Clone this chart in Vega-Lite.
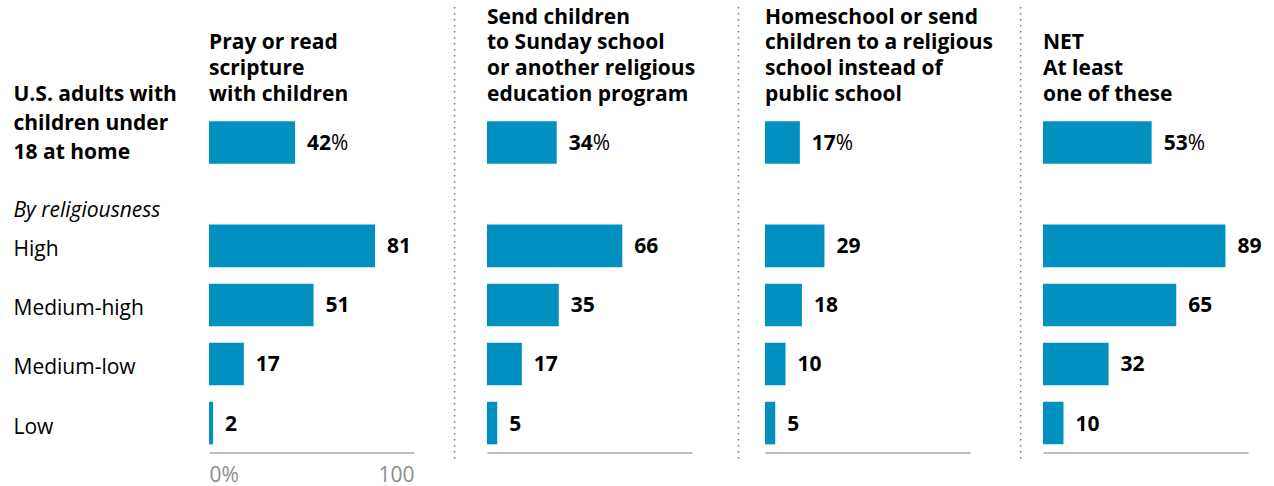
{
  "$schema": "https://vega.github.io/schema/vega-lite/v6.json",
  "background": "white",
  "autosize": {"type": "pad"},
  "padding": {"left": 13, "top": 6, "right": 6, "bottom": 6},
  "datasets": {
    "bars": [
      {"measure": "pray", "group": "U.S. adults with children under 18 at home", "value": 42},
      {"measure": "pray", "group": "High", "value": 81},
      {"measure": "pray", "group": "Medium-high", "value": 51},
      {"measure": "pray", "group": "Medium-low", "value": 17},
      {"measure": "pray", "group": "Low", "value": 2},
      {"measure": "sunday", "group": "U.S. adults with children under 18 at home", "value": 34},
      {"measure": "sunday", "group": "High", "value": 66},
      {"measure": "sunday", "group": "Medium-high", "value": 35},
      {"measure": "sunday", "group": "Medium-low", "value": 17},
      {"measure": "sunday", "group": "Low", "value": 5},
      {"measure": "homeschool", "group": "U.S. adults with children under 18 at home", "value": 17},
      {"measure": "homeschool", "group": "High", "value": 29},
      {"measure": "homeschool", "group": "Medium-high", "value": 18},
      {"measure": "homeschool", "group": "Medium-low", "value": 10},
      {"measure": "homeschool", "group": "Low", "value": 5},
      {"measure": "net", "group": "U.S. adults with children under 18 at home", "value": 53},
      {"measure": "net", "group": "High", "value": 89},
      {"measure": "net", "group": "Medium-high", "value": 65},
      {"measure": "net", "group": "Medium-low", "value": 32},
      {"measure": "net", "group": "Low", "value": 10}
    ],
    "titles": [
      {"measure": "pray", "group": "U.S. adults with children under 18 at home", "title": ["Pray or read", "scripture", "with children"]},
      {"measure": "sunday", "group": "U.S. adults with children under 18 at home", "title": ["Send children", "to Sunday school", "or another religious", "education program"]},
      {"measure": "homeschool", "group": "U.S. adults with children under 18 at home", "title": ["Homeschool or send", "children to a religious", "school instead of", "public school"]},
      {"measure": "net", "group": "U.S. adults with children under 18 at home", "title": ["NET", "At least", "one of these"]}
    ],
    "seps": [{"sep": 1}]
  },
  "spacing": 73,
  "bounds": "flush",
  "hconcat": [
    {
      "width": 205, "height": 456,
      "layer": [
        {"data": {"name": "bars"}, "transform": [{"filter": "datum.measure == 'pray' && datum.group == 'U.S. adults with children under 18 at home'"}],
         "mark": {"type": "bar", "color": "#0091c1", "yOffset": 14.8},
         "encoding": {"x": {"field": "value", "type": "quantitative", "scale": {"domain": [0, 100]},
                            "axis": {"title": null, "labels": true, "values": [0, 100], "labelExpr": "datum.value == 0 ? '0%' : '100'"}},
                      "y": {"field": "group", "type": "nominal", "scale": {"domain": ["U.S. adults with children under 18 at home", "By religiousness", "High", "Medium-high", "Medium-low", "Low"], "paddingInner": 0.279, "paddingOuter": 1.0235, "align": 0.842, "round": false},
                            "axis": {"title": null, "labels": true, "labelAlign": "left", "labelBaseline": "middle", "labelPadding": 196, "tickSize": 0, "labelLimit": 300, "labelFontSize": 21, "labelColor": "#000", "labelLineHeight": 29,
                                     "labelExpr": "datum.value == 'U.S. adults with children under 18 at home' ? ['U.S. adults with', 'children under', '18 at home'] : datum.value",
                                     "labelFontWeight": {"condition": {"test": "datum.value == 'U.S. adults with children under 18 at home'", "value": "bold"}, "value": "normal"},
                                     "labelFontStyle": {"condition": {"test": "datum.value == 'By religiousness'", "value": "italic"}, "value": "normal"},
                                     "labelOffset": {"condition": [{"test": "datum.value == 'U.S. adults with children under 18 at home'", "value": -32.4}, {"test": "datum.value == 'By religiousness'", "value": 24}], "value": 4.5}}}}},
        {"data": {"name": "seps"}, "mark": {"type": "rule", "color": "#7a7a7a", "strokeWidth": 1.5, "strokeDash": [1.5, 4.5]},
         "encoding": {"x": {"datum": 119.8, "type": "quantitative", "scale": {"domain": [0, 100]}}}},
        {"data": {"name": "titles"}, "transform": [{"filter": "datum.measure == 'pray'"}],
         "mark": {"type": "text", "align": "left", "baseline": "alphabetic", "fontSize": 21, "fontWeight": "bold", "lineHeight": 25.7, "dy": -78.4, "color": "#000"},
         "encoding": {"x": {"datum": 0, "type": "quantitative", "scale": {"domain": [0, 100]}},
                      "y": {"field": "group", "type": "nominal", "scale": {"domain": ["U.S. adults with children under 18 at home", "By religiousness", "High", "Medium-high", "Medium-low", "Low"], "paddingInner": 0.279, "paddingOuter": 1.0235, "align": 0.842, "round": false}},
                      "text": {"field": "title", "type": "nominal"}}},
        {"data": {"name": "bars"}, "transform": [{"filter": "datum.measure == 'pray' && datum.group != 'U.S. adults with children under 18 at home'"}],
         "mark": {"type": "bar", "color": "#0091c1"},
         "encoding": {"x": {"field": "value", "type": "quantitative", "scale": {"domain": [0, 100]}},
                      "y": {"field": "group", "type": "nominal", "scale": {"domain": ["U.S. adults with children under 18 at home", "By religiousness", "High", "Medium-high", "Medium-low", "Low"], "paddingInner": 0.279, "paddingOuter": 1.0235, "align": 0.842, "round": false}}}},
        {"data": {"name": "bars"}, "transform": [{"filter": "datum.measure == 'pray' && datum.group == 'U.S. adults with children under 18 at home'"}],
         "mark": {"type": "text", "align": "left", "baseline": "middle", "dx": 12, "dy": 1, "yOffset": 14.8, "fontSize": 21, "fontWeight": "bold", "color": "#000"},
         "encoding": {"x": {"field": "value", "type": "quantitative", "scale": {"domain": [0, 100]}},
                      "y": {"field": "group", "type": "nominal", "scale": {"domain": ["U.S. adults with children under 18 at home", "By religiousness", "High", "Medium-high", "Medium-low", "Low"], "paddingInner": 0.279, "paddingOuter": 1.0235, "align": 0.842, "round": false}},
                      "text": {"field": "value", "type": "quantitative"}}},
        {"data": {"name": "bars"}, "transform": [{"filter": "datum.measure == 'pray' && datum.group == 'U.S. adults with children under 18 at home'"}],
         "mark": {"type": "text", "align": "left", "baseline": "middle", "dx": 36, "dy": 1, "yOffset": 14.8, "fontSize": 21, "fontWeight": "normal", "color": "#000", "text": "%"},
         "encoding": {"x": {"field": "value", "type": "quantitative", "scale": {"domain": [0, 100]}},
                      "y": {"field": "group", "type": "nominal", "scale": {"domain": ["U.S. adults with children under 18 at home", "By religiousness", "High", "Medium-high", "Medium-low", "Low"], "paddingInner": 0.279, "paddingOuter": 1.0235, "align": 0.842, "round": false}}}},
        {"data": {"name": "bars"}, "transform": [{"filter": "datum.measure == 'pray' && datum.group != 'U.S. adults with children under 18 at home'"}],
         "mark": {"type": "text", "align": "left", "baseline": "middle", "dx": 12, "dy": 1.5, "fontSize": 21, "fontWeight": "bold", "color": "#000"},
         "encoding": {"x": {"field": "value", "type": "quantitative", "scale": {"domain": [0, 100]}},
                      "y": {"field": "group", "type": "nominal", "scale": {"domain": ["U.S. adults with children under 18 at home", "By religiousness", "High", "Medium-high", "Medium-low", "Low"], "paddingInner": 0.279, "paddingOuter": 1.0235, "align": 0.842, "round": false}},
                      "text": {"field": "value", "type": "quantitative"}}}
      ]
    },
    {
      "width": 205, "height": 456,
      "layer": [
        {"data": {"name": "bars"}, "transform": [{"filter": "datum.measure == 'sunday' && datum.group == 'U.S. adults with children under 18 at home'"}],
         "mark": {"type": "bar", "color": "#0091c1", "yOffset": 14.8},
         "encoding": {"x": {"field": "value", "type": "quantitative", "scale": {"domain": [0, 100]}, "axis": {"title": null}},
                      "y": {"field": "group", "type": "nominal", "scale": {"domain": ["U.S. adults with children under 18 at home", "By religiousness", "High", "Medium-high", "Medium-low", "Low"], "paddingInner": 0.279, "paddingOuter": 1.0235, "align": 0.842, "round": false}, "axis": null}}},
        {"data": {"name": "seps"}, "mark": {"type": "rule", "color": "#7a7a7a", "strokeWidth": 1.5, "strokeDash": [1.5, 4.5]},
         "encoding": {"x": {"datum": 122.7, "type": "quantitative", "scale": {"domain": [0, 100]}}}},
        {"data": {"name": "titles"}, "transform": [{"filter": "datum.measure == 'sunday'"}],
         "mark": {"type": "text", "align": "left", "baseline": "alphabetic", "fontSize": 21, "fontWeight": "bold", "lineHeight": 25.7, "dy": -104.1, "color": "#000"},
         "encoding": {"x": {"datum": 0, "type": "quantitative", "scale": {"domain": [0, 100]}},
                      "y": {"field": "group", "type": "nominal", "scale": {"domain": ["U.S. adults with children under 18 at home", "By religiousness", "High", "Medium-high", "Medium-low", "Low"], "paddingInner": 0.279, "paddingOuter": 1.0235, "align": 0.842, "round": false}, "axis": null},
                      "text": {"field": "title", "type": "nominal"}}},
        {"data": {"name": "bars"}, "transform": [{"filter": "datum.measure == 'sunday' && datum.group != 'U.S. adults with children under 18 at home'"}],
         "mark": {"type": "bar", "color": "#0091c1"},
         "encoding": {"x": {"field": "value", "type": "quantitative", "scale": {"domain": [0, 100]}},
                      "y": {"field": "group", "type": "nominal", "scale": {"domain": ["U.S. adults with children under 18 at home", "By religiousness", "High", "Medium-high", "Medium-low", "Low"], "paddingInner": 0.279, "paddingOuter": 1.0235, "align": 0.842, "round": false}, "axis": null}}},
        {"data": {"name": "bars"}, "transform": [{"filter": "datum.measure == 'sunday' && datum.group == 'U.S. adults with children under 18 at home'"}],
         "mark": {"type": "text", "align": "left", "baseline": "middle", "dx": 12, "dy": 1, "yOffset": 14.8, "fontSize": 21, "fontWeight": "bold", "color": "#000"},
         "encoding": {"x": {"field": "value", "type": "quantitative", "scale": {"domain": [0, 100]}},
                      "y": {"field": "group", "type": "nominal", "scale": {"domain": ["U.S. adults with children under 18 at home", "By religiousness", "High", "Medium-high", "Medium-low", "Low"], "paddingInner": 0.279, "paddingOuter": 1.0235, "align": 0.842, "round": false}, "axis": null},
                      "text": {"field": "value", "type": "quantitative"}}},
        {"data": {"name": "bars"}, "transform": [{"filter": "datum.measure == 'sunday' && datum.group == 'U.S. adults with children under 18 at home'"}],
         "mark": {"type": "text", "align": "left", "baseline": "middle", "dx": 36, "dy": 1, "yOffset": 14.8, "fontSize": 21, "fontWeight": "normal", "color": "#000", "text": "%"},
         "encoding": {"x": {"field": "value", "type": "quantitative", "scale": {"domain": [0, 100]}},
                      "y": {"field": "group", "type": "nominal", "scale": {"domain": ["U.S. adults with children under 18 at home", "By religiousness", "High", "Medium-high", "Medium-low", "Low"], "paddingInner": 0.279, "paddingOuter": 1.0235, "align": 0.842, "round": false}, "axis": null}}},
        {"data": {"name": "bars"}, "transform": [{"filter": "datum.measure == 'sunday' && datum.group != 'U.S. adults with children under 18 at home'"}],
         "mark": {"type": "text", "align": "left", "baseline": "middle", "dx": 12, "dy": 1.5, "fontSize": 21, "fontWeight": "bold", "color": "#000"},
         "encoding": {"x": {"field": "value", "type": "quantitative", "scale": {"domain": [0, 100]}},
                      "y": {"field": "group", "type": "nominal", "scale": {"domain": ["U.S. adults with children under 18 at home", "By religiousness", "High", "Medium-high", "Medium-low", "Low"], "paddingInner": 0.279, "paddingOuter": 1.0235, "align": 0.842, "round": false}, "axis": null},
                      "text": {"field": "value", "type": "quantitative"}}}
      ]
    },
    {
      "width": 205, "height": 456,
      "layer": [
        {"data": {"name": "bars"}, "transform": [{"filter": "datum.measure == 'homeschool' && datum.group == 'U.S. adults with children under 18 at home'"}],
         "mark": {"type": "bar", "color": "#0091c1", "yOffset": 14.8},
         "encoding": {"x": {"field": "value", "type": "quantitative", "scale": {"domain": [0, 100]}, "axis": {"title": null}},
                      "y": {"field": "group", "type": "nominal", "scale": {"domain": ["U.S. adults with children under 18 at home", "By religiousness", "High", "Medium-high", "Medium-low", "Low"], "paddingInner": 0.279, "paddingOuter": 1.0235, "align": 0.842, "round": false}, "axis": null}}},
        {"data": {"name": "seps"}, "mark": {"type": "rule", "color": "#7a7a7a", "strokeWidth": 1.5, "strokeDash": [1.5, 4.5]},
         "encoding": {"x": {"datum": 124.7, "type": "quantitative", "scale": {"domain": [0, 100]}}}},
        {"data": {"name": "titles"}, "transform": [{"filter": "datum.measure == 'homeschool'"}],
         "mark": {"type": "text", "align": "left", "baseline": "alphabetic", "fontSize": 21, "fontWeight": "bold", "lineHeight": 25.7, "dy": -104.1, "color": "#000"},
         "encoding": {"x": {"datum": 0, "type": "quantitative", "scale": {"domain": [0, 100]}},
                      "y": {"field": "group", "type": "nominal", "scale": {"domain": ["U.S. adults with children under 18 at home", "By religiousness", "High", "Medium-high", "Medium-low", "Low"], "paddingInner": 0.279, "paddingOuter": 1.0235, "align": 0.842, "round": false}, "axis": null},
                      "text": {"field": "title", "type": "nominal"}}},
        {"data": {"name": "bars"}, "transform": [{"filter": "datum.measure == 'homeschool' && datum.group != 'U.S. adults with children under 18 at home'"}],
         "mark": {"type": "bar", "color": "#0091c1"},
         "encoding": {"x": {"field": "value", "type": "quantitative", "scale": {"domain": [0, 100]}},
                      "y": {"field": "group", "type": "nominal", "scale": {"domain": ["U.S. adults with children under 18 at home", "By religiousness", "High", "Medium-high", "Medium-low", "Low"], "paddingInner": 0.279, "paddingOuter": 1.0235, "align": 0.842, "round": false}, "axis": null}}},
        {"data": {"name": "bars"}, "transform": [{"filter": "datum.measure == 'homeschool' && datum.group == 'U.S. adults with children under 18 at home'"}],
         "mark": {"type": "text", "align": "left", "baseline": "middle", "dx": 12, "dy": 1, "yOffset": 14.8, "fontSize": 21, "fontWeight": "bold", "color": "#000"},
         "encoding": {"x": {"field": "value", "type": "quantitative", "scale": {"domain": [0, 100]}},
                      "y": {"field": "group", "type": "nominal", "scale": {"domain": ["U.S. adults with children under 18 at home", "By religiousness", "High", "Medium-high", "Medium-low", "Low"], "paddingInner": 0.279, "paddingOuter": 1.0235, "align": 0.842, "round": false}, "axis": null},
                      "text": {"field": "value", "type": "quantitative"}}},
        {"data": {"name": "bars"}, "transform": [{"filter": "datum.measure == 'homeschool' && datum.group == 'U.S. adults with children under 18 at home'"}],
         "mark": {"type": "text", "align": "left", "baseline": "middle", "dx": 36, "dy": 1, "yOffset": 14.8, "fontSize": 21, "fontWeight": "normal", "color": "#000", "text": "%"},
         "encoding": {"x": {"field": "value", "type": "quantitative", "scale": {"domain": [0, 100]}},
                      "y": {"field": "group", "type": "nominal", "scale": {"domain": ["U.S. adults with children under 18 at home", "By religiousness", "High", "Medium-high", "Medium-low", "Low"], "paddingInner": 0.279, "paddingOuter": 1.0235, "align": 0.842, "round": false}, "axis": null}}},
        {"data": {"name": "bars"}, "transform": [{"filter": "datum.measure == 'homeschool' && datum.group != 'U.S. adults with children under 18 at home'"}],
         "mark": {"type": "text", "align": "left", "baseline": "middle", "dx": 12, "dy": 1.5, "fontSize": 21, "fontWeight": "bold", "color": "#000"},
         "encoding": {"x": {"field": "value", "type": "quantitative", "scale": {"domain": [0, 100]}},
                      "y": {"field": "group", "type": "nominal", "scale": {"domain": ["U.S. adults with children under 18 at home", "By religiousness", "High", "Medium-high", "Medium-low", "Low"], "paddingInner": 0.279, "paddingOuter": 1.0235, "align": 0.842, "round": false}, "axis": null},
                      "text": {"field": "value", "type": "quantitative"}}}
      ]
    },
    {
      "width": 205, "height": 456,
      "layer": [
        {"data": {"name": "bars"}, "transform": [{"filter": "datum.measure == 'net' && datum.group == 'U.S. adults with children under 18 at home'"}],
         "mark": {"type": "bar", "color": "#0091c1", "yOffset": 14.8},
         "encoding": {"x": {"field": "value", "type": "quantitative", "scale": {"domain": [0, 100]}, "axis": {"title": null}},
                      "y": {"field": "group", "type": "nominal", "scale": {"domain": ["U.S. adults with children under 18 at home", "By religiousness", "High", "Medium-high", "Medium-low", "Low"], "paddingInner": 0.279, "paddingOuter": 1.0235, "align": 0.842, "round": false}, "axis": null}}},
        {"data": {"name": "titles"}, "transform": [{"filter": "datum.measure == 'net'"}],
         "mark": {"type": "text", "align": "left", "baseline": "alphabetic", "fontSize": 21, "fontWeight": "bold", "lineHeight": 25.7, "dy": -78.4, "color": "#000"},
         "encoding": {"x": {"datum": 0, "type": "quantitative", "scale": {"domain": [0, 100]}},
                      "y": {"field": "group", "type": "nominal", "scale": {"domain": ["U.S. adults with children under 18 at home", "By religiousness", "High", "Medium-high", "Medium-low", "Low"], "paddingInner": 0.279, "paddingOuter": 1.0235, "align": 0.842, "round": false}, "axis": null},
                      "text": {"field": "title", "type": "nominal"}}},
        {"data": {"name": "bars"}, "transform": [{"filter": "datum.measure == 'net' && datum.group != 'U.S. adults with children under 18 at home'"}],
         "mark": {"type": "bar", "color": "#0091c1"},
         "encoding": {"x": {"field": "value", "type": "quantitative", "scale": {"domain": [0, 100]}},
                      "y": {"field": "group", "type": "nominal", "scale": {"domain": ["U.S. adults with children under 18 at home", "By religiousness", "High", "Medium-high", "Medium-low", "Low"], "paddingInner": 0.279, "paddingOuter": 1.0235, "align": 0.842, "round": false}, "axis": null}}},
        {"data": {"name": "bars"}, "transform": [{"filter": "datum.measure == 'net' && datum.group == 'U.S. adults with children under 18 at home'"}],
         "mark": {"type": "text", "align": "left", "baseline": "middle", "dx": 12, "dy": 1, "yOffset": 14.8, "fontSize": 21, "fontWeight": "bold", "color": "#000"},
         "encoding": {"x": {"field": "value", "type": "quantitative", "scale": {"domain": [0, 100]}},
                      "y": {"field": "group", "type": "nominal", "scale": {"domain": ["U.S. adults with children under 18 at home", "By religiousness", "High", "Medium-high", "Medium-low", "Low"], "paddingInner": 0.279, "paddingOuter": 1.0235, "align": 0.842, "round": false}, "axis": null},
                      "text": {"field": "value", "type": "quantitative"}}},
        {"data": {"name": "bars"}, "transform": [{"filter": "datum.measure == 'net' && datum.group == 'U.S. adults with children under 18 at home'"}],
         "mark": {"type": "text", "align": "left", "baseline": "middle", "dx": 36, "dy": 1, "yOffset": 14.8, "fontSize": 21, "fontWeight": "normal", "color": "#000", "text": "%"},
         "encoding": {"x": {"field": "value", "type": "quantitative", "scale": {"domain": [0, 100]}},
                      "y": {"field": "group", "type": "nominal", "scale": {"domain": ["U.S. adults with children under 18 at home", "By religiousness", "High", "Medium-high", "Medium-low", "Low"], "paddingInner": 0.279, "paddingOuter": 1.0235, "align": 0.842, "round": false}, "axis": null}}},
        {"data": {"name": "bars"}, "transform": [{"filter": "datum.measure == 'net' && datum.group != 'U.S. adults with children under 18 at home'"}],
         "mark": {"type": "text", "align": "left", "baseline": "middle", "dx": 12, "dy": 1.5, "fontSize": 21, "fontWeight": "bold", "color": "#000"},
         "encoding": {"x": {"field": "value", "type": "quantitative", "scale": {"domain": [0, 100]}},
                      "y": {"field": "group", "type": "nominal", "scale": {"domain": ["U.S. adults with children under 18 at home", "By religiousness", "High", "Medium-high", "Medium-low", "Low"], "paddingInner": 0.279, "paddingOuter": 1.0235, "align": 0.842, "round": false}, "axis": null},
                      "text": {"field": "value", "type": "quantitative"}}}
      ]
    }
  ],
  "config": {
    "view": {"stroke": null},
    "font": "Open Sans",
    "text": {"font": "Open Sans"},
    "axis": {"labelFont": "Open Sans", "grid": false, "ticks": false},
    "axisX": {"labels": false, "domainColor": "#7a7a7a", "domainWidth": 1.2, "offset": -10.5, "labelColor": "#8c8c8c", "labelFontSize": 21, "labelPadding": 12},
    "axisY": {"domain": false}
  }
}
